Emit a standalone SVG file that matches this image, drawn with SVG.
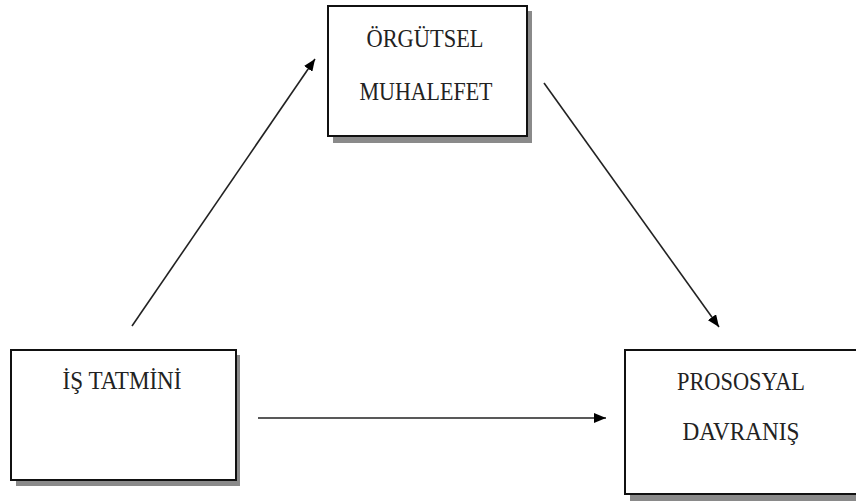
<svg xmlns="http://www.w3.org/2000/svg" width="856" height="501" viewBox="0 0 856 501">
<style>
.shadow{fill:#8a8a8a}
.box{fill:#fff;stroke:#111;stroke-width:2}
.lbl{font-family:"Liberation Serif","Times New Roman",serif;font-size:26px;fill:#222;text-anchor:middle}
.con{stroke:#222;stroke-width:1.6;fill:none;marker-end:url(#ah)}
</style>
<defs>
<marker id="ah" viewBox="0 0 12 10" refX="12" refY="5" markerWidth="12" markerHeight="10" markerUnits="userSpaceOnUse" orient="auto">
<path d="M0,0 L12,5 L0,10 Z" fill="#000"/>
</marker>
</defs>
<rect width="856" height="501" fill="#fff"/>
<g id="node-orgutsel">
<rect class="shadow" x="333" y="11" width="199" height="132"/>
<rect class="box" x="328" y="6" width="199" height="130"/>
<text class="lbl" x="425" y="47" textLength="117" lengthAdjust="spacingAndGlyphs">ÖRGÜTSEL</text>
<text class="lbl" x="426" y="100" textLength="133" lengthAdjust="spacingAndGlyphs">MUHALEFET</text>
</g>
<g id="node-is-tatmini">
<rect class="shadow" x="16" y="355" width="224" height="131"/>
<rect class="box" x="11" y="350" width="225" height="130"/>
<text class="lbl" x="122" y="389" textLength="119" lengthAdjust="spacingAndGlyphs">İŞ TATMİNİ</text>
</g>
<g id="node-prososyal">
<rect class="shadow" x="630" y="355" width="240" height="146"/>
<rect class="box" x="625" y="350" width="245" height="144"/>
<text class="lbl" x="741" y="390" textLength="128" lengthAdjust="spacingAndGlyphs">PROSOSYAL</text>
<text class="lbl" x="741" y="440" textLength="117" lengthAdjust="spacingAndGlyphs">DAVRANIŞ</text>
</g>
<g id="connectors">
<line class="con" x1="132" y1="326" x2="315" y2="59"/>
<line class="con" x1="544" y1="83" x2="719" y2="327"/>
<line class="con" x1="258" y1="418" x2="606" y2="418"/>
</g>
</svg>
